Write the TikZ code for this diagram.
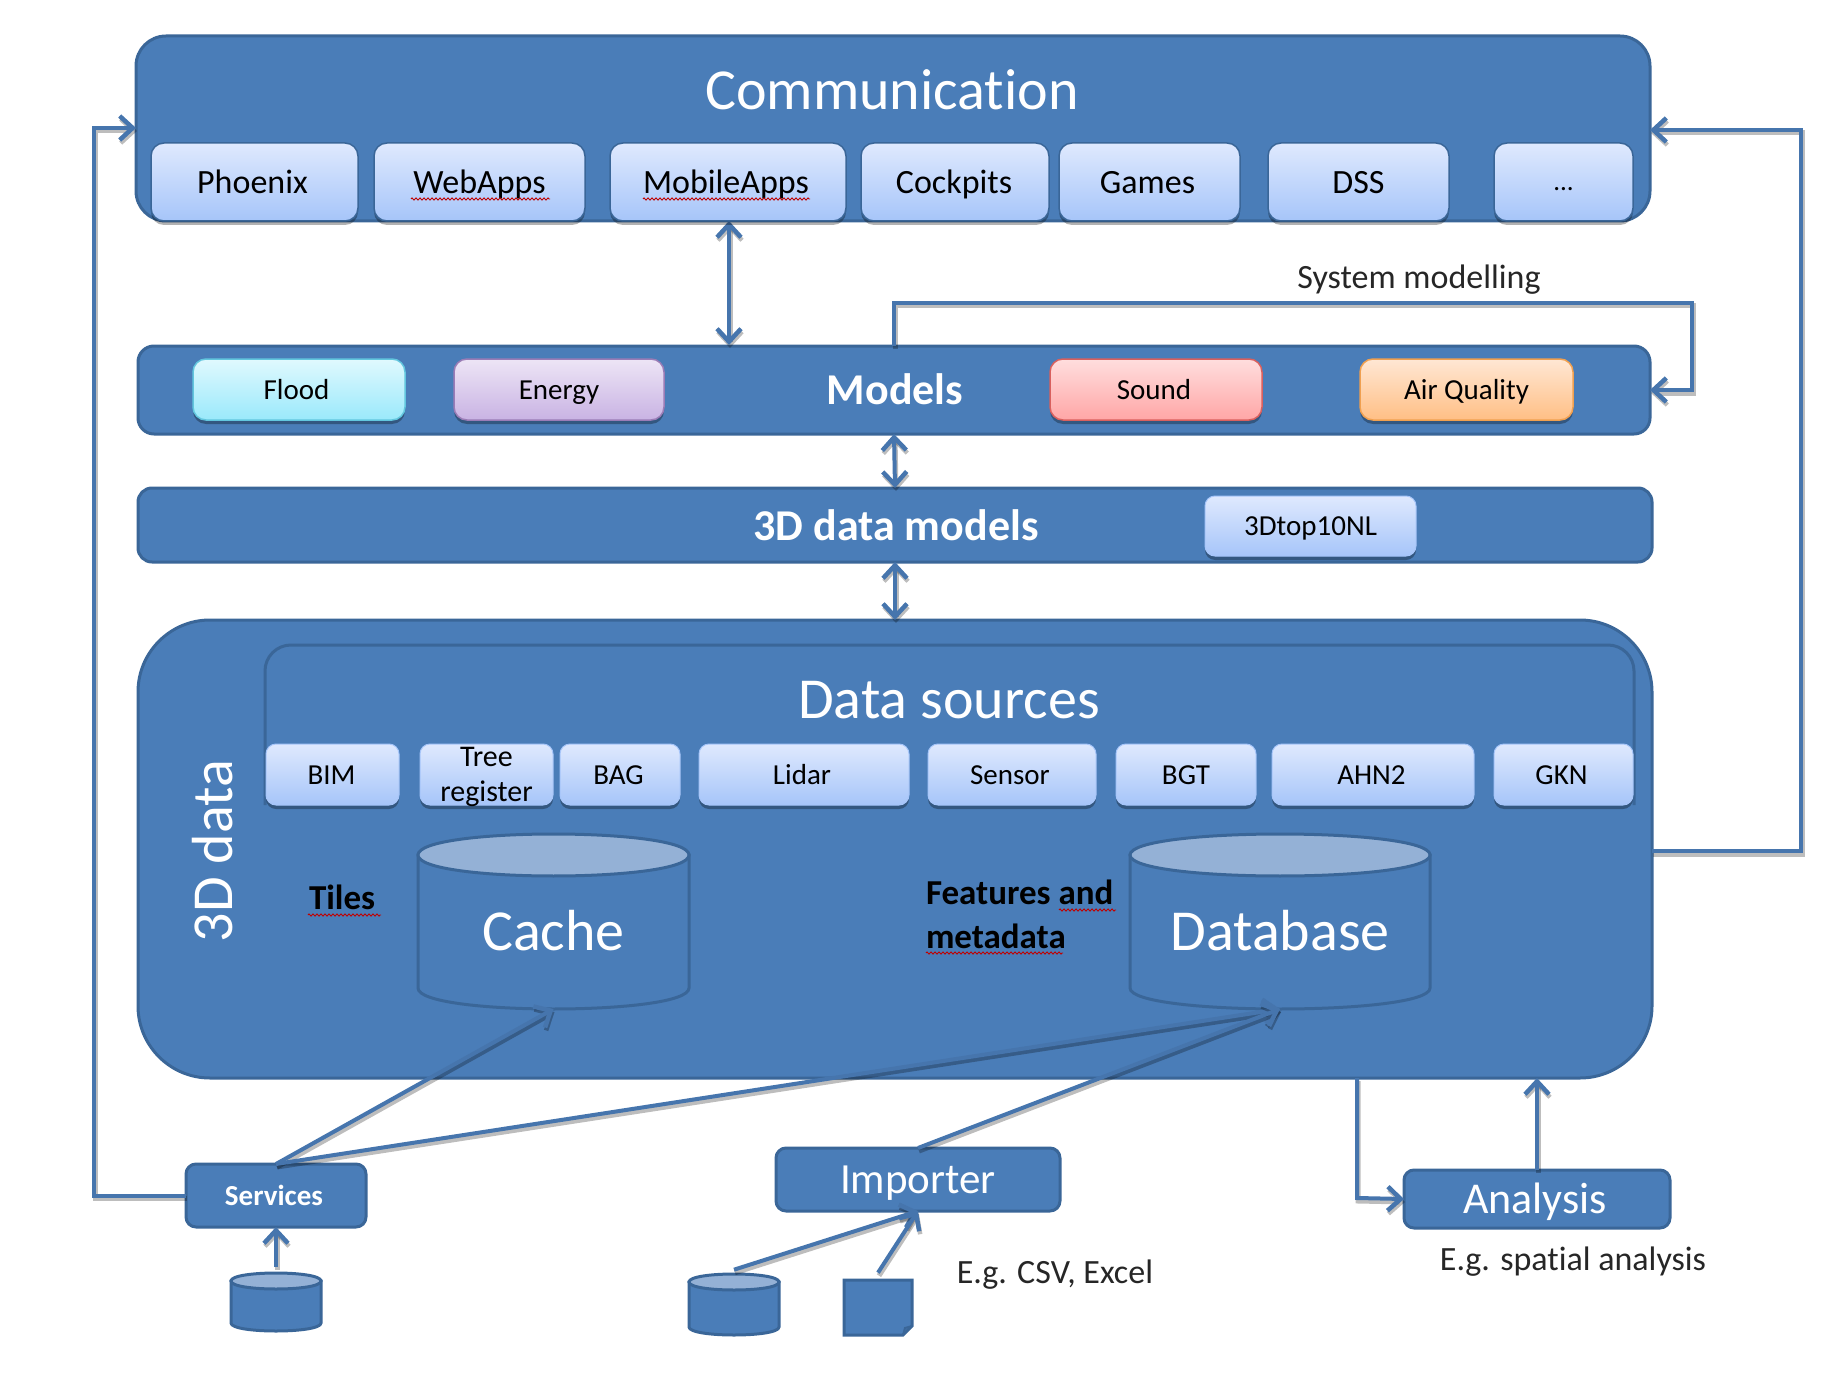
\documentclass[tikz,border=0pt]{standalone}
\usepackage{fontspec}
\setmainfont[Ligatures={NoCommon}]{Carlito}
\usetikzlibrary{arrows.meta,shadows,decorations.pathmorphing}
\definecolor{mainblue}{HTML}{4A7DB8}
\definecolor{edgeblue}{HTML}{3A6698}
\definecolor{cyltop}{HTML}{94B1D6}
\newcommand{\fsz}[1]{\edef\fszb{\the\numexpr#1*12/10\relax}\fontsize{#1}{\fszb}\selectfont}
\newcommand{\mystrut}{\rule[-.27em]{0pt}{1.2em}}
\newcommand{\bx}[7]{%
  \pgfmathsetmacro\bxcx{(#3+#5)/2}\pgfmathsetmacro\bxcy{(#4+#6)/2}%
  \pgfmathsetmacro\bxw{#5-#3}\pgfmathsetmacro\bxh{#6-#4}%
  \node[#1,minimum width=\bxw pt,minimum height=\bxh pt] (#2) at (\bxcx,\bxcy) {\mystrut #7};}
% cylinder: name, x1, y1, x2, y2, r, line width, text
\newcommand{\cyl}[8]{%
  \pgfmathsetmacro\cm{(#2+#4)/2}\pgfmathsetmacro\ct{#3+#6}\pgfmathsetmacro\cb{#5-#6}%
  \pgfmathsetmacro\cbc{#5-#6+#6*1.333}\pgfmathsetmacro\ctu{#3+#6-#6*1.333}\pgfmathsetmacro\ctd{#3+#6+#6*1.333}%
  \fill[mainblue,draw=edgeblue,line width=#7pt] (#2,\ct) -- (#2,\cb) .. controls (#2,\cbc) and (#4,\cbc) .. (#4,\cb) -- (#4,\ct) -- cycle;
  \fill[cyltop,draw=edgeblue,line width=#7pt] (#2,\ct) .. controls (#2,\ctu) and (#4,\ctu) .. (#4,\ct) .. controls (#4,\ctd) and (#2,\ctd) .. (#2,\ct) -- cycle;
  \bx{ghost}{#1}{#2}{#3}{#4}{#5}{#8}}
\definecolor{chiptop}{HTML}{DFE9FE}\definecolor{chipbot}{HTML}{A6C5F9}
\definecolor{floodtop}{HTML}{E0F9FE}\definecolor{floodbot}{HTML}{9AE9FB}\definecolor{floodedge}{HTML}{62C6DE}
\definecolor{energytop}{HTML}{EDE5F6}\definecolor{energybot}{HTML}{C9B3E3}\definecolor{energyedge}{HTML}{9A7CB6}
\definecolor{soundtop}{HTML}{FFDEDE}\definecolor{soundbot}{HTML}{FFA6A6}\definecolor{soundedge}{HTML}{D9605E}
\definecolor{airtop}{HTML}{FFE7D4}\definecolor{airbot}{HTML}{FFBF85}\definecolor{airedge}{HTML}{F0A050}
\tikzset{
  x=1pt,y=-1pt,
  every node/.style={inner sep=0pt,outer sep=0pt,text=black},
  ghost/.style={text=white,font=\fsz{58}},
  panel/.style={draw=edgeblue,line width=3pt,fill=mainblue,text=white},
  chipshadow/.style={drop shadow={shadow xshift=0pt,shadow yshift=-4pt,opacity=.3,fill=black}},
  chip/.style={chipshadow,rounded corners=13pt,draw=#1,line width=1.5pt},
  chip/.default=edgeblue,
  blue chip/.style={chip=edgeblue,top color=chiptop,bottom color=chipbot,font=\fsz{34}},
  data chip/.style={chipshadow,rounded corners=10pt,draw=chipbot,line width=1pt,top color=chiptop,bottom color=chipbot,font=\fsz{29}},
  flood/.style={chip=floodedge,top color=floodtop,bottom color=floodbot,font=\fsz{29}},
  energy/.style={chip=energyedge,top color=energytop,bottom color=energybot,font=\fsz{29}},
  sound/.style={chip=soundedge,top color=soundtop,bottom color=soundbot,font=\fsz{29}},
  air/.style={chip=airedge,top color=airtop,bottom color=airbot,font=\fsz{29}},
  label/.style={text=black!85,font=\fsz{34}},
  blabel/.style={text=black,font=\bfseries\fsz{35}},
  conn/.style={draw=mainblue!94!black,line width=4pt,line join=miter,
    preaction={draw=black,line width=5pt,opacity=.26,transform canvas={xshift=1pt,yshift=-3pt}}},
  oneway/.style={conn,-{Straight Barb[length=13pt,width=24pt,line width=4.5pt]}},
  bothway/.style={conn,{Straight Barb[length=13pt,width=24pt,line width=4.5pt]}-{Straight Barb[length=13pt,width=24pt,line width=4.5pt]}},
  spell/.style={draw=red!75!black,line width=.9pt,decorate,decoration={zigzag,segment length=4pt,amplitude=1.1pt}},
}
\begin{document}
\begin{tikzpicture}
\useasboundingbox (0,0) rectangle (1834,1380);
% panels
\bx{panel,rounded corners=30pt}{comm}{136}{36}{1650}{221}{}
\bx{panel,rounded corners=16pt}{models}{138}{346}{1650}{434}{}
\bx{panel,rounded corners=14pt}{dm}{138}{488}{1652}{562}{}
\bx{panel,rounded corners=72pt}{data3d}{138}{620}{1652}{1078}{}
\draw[edgeblue,line width=3pt,rounded corners=26pt] (265,805) -- (265,645) -- (1634,645) -- (1634,805);
\node[text=white,font=\fsz{58}] (commt) at (892,90) {\mystrut Communication};
\node[text=white,font=\bfseries\fsz{44}] (modelst) at (895,390) {\mystrut Models};
\node[text=white,font=\bfseries\fsz{44}] (dmt) at (896,526) {\mystrut 3D data models};
\node[text=white,font=\fsz{58}] (dst) at (949,699) {\mystrut Data sources};
\node[text=white,font=\fsz{58},rotate=90] (d3t) at (213,851) {\mystrut 3D data};
% connector corners
\coordinate (sysup) at (894,303);
\coordinate (syscorner) at (1692,303);
\coordinate (commL) at (136,128);
\coordinate (commR) at (1650,130);
\coordinate (rightT) at (1801,130);
\coordinate (rightB) at (1801,851);
\coordinate (leftT) at (94,128);
\coordinate (aout) at (1357,1078);
\coordinate (abend) at (1357,1198);
\cyl{cache}{418}{834}{689}{1009}{21}{3}{\smash{\raisebox{-10pt}{Cache}}}
\cyl{db}{1130}{834}{1430}{1009}{21}{3}{\smash{\raisebox{-10pt}{Database}}}
\cyl{cylA}{231}{1273}{321}{1331}{8}{3}{}
\cyl{cylB}{689}{1274}{779}{1335}{8}{3}{}
\draw[panel] (844,1280) -- (912,1280) -- (912,1326) -- (903,1335) -- (844,1335) -- cycle;
\draw[edgeblue,line width=2pt] (903,1335) -- (905,1328) -- (912,1326);
\bx{ghost}{docu}{844}{1280}{912}{1335}{}
% services etc
\bx{panel,rounded corners=10pt,font=\bfseries\fsz{29}}{services}{186}{1164}{366}{1227}{\hspace*{-4pt}Services}
\bx{panel,rounded corners=10pt,font=\fsz{43}}{importer}{776}{1148}{1060}{1211}{Importer}
\bx{panel,rounded corners=10pt,font=\fsz{44}}{analysis}{1404}{1170}{1670}{1228}{\hspace*{-4pt}Analysis}
% connectors
\draw[oneway] (services.west) -| (leftT) -- (commL);
\draw[oneway] (data3d.east |- rightB) -- (rightB) -- (rightT) -- (commR);
\draw[oneway] (models.north -| sysup) -- (sysup) -- (syscorner) |- (models.east);
\draw[bothway] (729,221) -- (729,345);
\draw[bothway] (models.south) -- (dm.north);
\draw[bothway] (dm.south) -- (data3d.north);
\draw[oneway] (services.north) -- (cache.south);
\draw[oneway] (services.north) -- (db.south);
\draw[oneway] (importer.north) -- (db.south);
\draw[oneway] (aout) -- (abend) -- (analysis.west);
\draw[oneway] (analysis.north) -- (analysis.north |- data3d.south);
\draw[oneway] (cylA.north) -- (services.south);
\draw[oneway] (cylB.north) -- (importer.south);
\draw[oneway] (docu.north) -- (importer.south);
% communication chips
\bx{blue chip}{phoenix}{151}{143}{358}{221}{\hspace*{-4pt}Phoenix}
\bx{blue chip}{webapps}{374}{143}{585}{221}{WebApps}
\bx{blue chip}{mobile}{610}{143}{846}{221}{\hspace*{-4pt}MobileApps}
\bx{blue chip}{cockpits}{861}{143}{1049}{221}{\hspace*{-2pt}Cockpits}
\bx{blue chip}{games}{1059}{143}{1240}{221}{\hspace*{-4pt}Games}
\bx{blue chip}{dss}{1268}{143}{1449}{221}{DSS}
\bx{blue chip,font=\fsz{27}}{dots}{1494}{143}{1633}{221}{...}
% models chips
\bx{flood}{flood}{193}{359}{405}{420}{\hspace*{-5pt}Flood}
\bx{energy}{energy}{454}{359}{664}{420}{Energy}
\bx{sound}{sound}{1050}{359}{1262}{420}{\hspace*{-4pt}Sound}
\bx{air}{airq}{1360}{359}{1573}{420}{Air Quality}
\bx{blue chip,font=\fsz{29},rounded corners=10pt,draw=chipbot,line width=1pt}{top10}{1205}{496}{1416}{556}{3Dtop10NL}
% data source chips
\bx{data chip}{bim}{266}{744}{399}{805}{\hspace*{-2pt}BIM}
\bx{data chip}{tree}{420}{744}{553}{805}{}
\node[align=center,font=\fontsize{30}{35}\selectfont] (treet) at (486.5,777) {Tree\\register};
\bx{data chip}{bag}{560}{744}{680}{805}{\hspace*{-3pt}BAG}
\bx{data chip}{lidar}{699}{744}{909}{805}{\hspace*{-4pt}Lidar}
\bx{data chip}{sensor}{928}{744}{1096}{805}{\hspace*{-4pt}Sensor}
\bx{data chip}{bgt}{1116}{744}{1256}{805}{BGT}
\bx{data chip}{ahn}{1272}{744}{1474}{805}{\hspace*{-3pt}AHN2}
\bx{data chip}{gkn}{1494}{744}{1633}{805}{\hspace*{-4pt}GKN}
% labels
\node[blabel,anchor=west] (tiles) at (309,898) {\mystrut Tiles};
\node[blabel,anchor=west] (feat) at (926,893) {\mystrut Features and};
\node[blabel,anchor=west] (meta) at (926,937) {\mystrut metadata};
\node[label] (sysl) at (1419,277) {\mystrut System modelling};
\node[label] (csv) at (1055,1272) {\mystrut E.g. CSV, Excel};
\node[label] (spat) at (1573,1259) {\mystrut E.g. spatial analysis};
% spell-check underlines
\draw[spell] (411,199) -- (550,199);
\draw[spell] (643,199) -- (810,199);
\draw[spell] (308,915) -- (381,915);
\draw[spell] (1059,910) -- (1116,910);
\draw[spell] (926,953) -- (1063,953);
\end{tikzpicture}
\end{document}
